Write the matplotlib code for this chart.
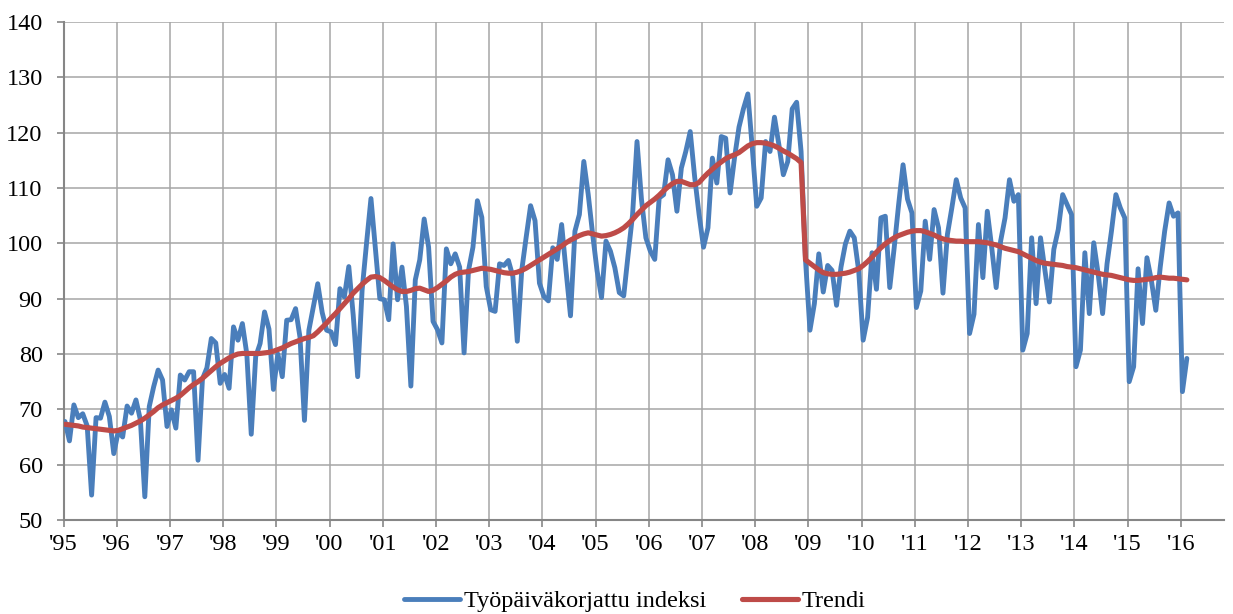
import matplotlib
matplotlib.use("Agg")
import matplotlib.pyplot as plt
import numpy as np

plt.rcParams['font.family'] = ['Liberation Serif', 'DejaVu Serif']

# monthly values, Jan 1995 .. Feb 2016
years = list(range(1995, 2017))
index_by_year = [
    [67.8, 64.3, 70.8, 68.5, 69.2, 67.0, 54.5, 68.5, 68.4, 71.3, 68.7, 62.0],
    [66.0, 65.0, 70.6, 69.3, 71.7, 68.1, 54.2, 70.5, 74.1, 77.1, 75.3, 66.9],
    [69.9, 66.6, 76.2, 75.3, 76.8, 76.8, 60.8, 75.5, 77.5, 82.8, 82.0, 74.7],
    [76.3, 73.8, 84.9, 82.5, 85.5, 80.0, 65.5, 79.5, 81.9, 87.6, 84.5, 73.6],
    [80.0, 75.9, 86.1, 86.2, 88.2, 83.0, 68.0, 84.3, 88.5, 92.7, 87.5, 84.3],
    [84.0, 81.7, 91.8, 90.3, 95.8, 87.0, 75.9, 91.5, 100.0, 108.1, 99.0, 90.0],
    [89.8, 86.2, 99.9, 89.8, 95.7, 88.6, 74.2, 93.4, 97.0, 104.4, 99.3, 85.9],
    [84.4, 82.0, 99.0, 96.3, 98.1, 95.7, 80.2, 95.1, 99.3, 107.7, 104.7, 92.2],
    [88.0, 87.7, 96.3, 96.0, 96.9, 94.0, 82.3, 95.1, 101.1, 106.8, 104.1, 92.8],
    [90.4, 89.6, 99.2, 97.1, 103.4, 95.0, 86.9, 102.2, 105.2, 114.8, 108.8, 101.6],
    [95.0, 90.2, 100.4, 98.6, 95.6, 91.1, 90.5, 98.0, 105.2, 118.4, 108.0, 101.0],
    [98.6, 97.1, 108.2, 108.8, 115.1, 112.4, 105.8, 113.6, 116.6, 120.2, 112.0, 105.2],
    [99.3, 102.8, 115.4, 110.9, 119.3, 119.0, 109.1, 115.5, 121.0, 124.3, 127.0, 117.2],
    [106.7, 108.2, 118.4, 116.6, 122.8, 117.8, 112.4, 114.8, 124.3, 125.5, 116.6, 97.0],
    [84.3, 89.1, 98.1, 91.2, 96.0, 95.1, 88.8, 95.7, 99.9, 102.2, 101.0, 95.0],
    [82.5, 86.6, 98.3, 91.7, 104.6, 104.9, 92.0, 99.2, 107.0, 114.2, 108.0, 105.5],
    [88.4, 91.4, 104.0, 97.1, 106.1, 102.8, 91.0, 101.6, 106.4, 111.5, 108.2, 106.4],
    [83.7, 87.2, 103.4, 93.8, 105.8, 99.2, 92.0, 100.4, 104.6, 111.5, 107.6, 108.8],
    [80.7, 83.7, 101.0, 89.1, 101.0, 95.1, 89.4, 98.9, 102.5, 108.8, 107.0, 105.2],
    [77.7, 80.7, 98.3, 87.3, 100.1, 94.5, 87.3, 96.3, 102.2, 108.8, 106.4, 104.6],
    [75.0, 77.7, 95.4, 85.5, 97.4, 93.3, 87.9, 95.7, 102.2, 107.3, 104.9, 105.5],
    [73.2, 79.2],
]
trend_by_year = [
    [67.3, 67.2, 67.1, 67.0, 66.8, 66.7, 66.6, 66.5, 66.4, 66.3, 66.2, 66.1],
    [66.2, 66.5, 66.8, 67.1, 67.5, 67.9, 68.4, 69.0, 69.6, 70.3, 70.8, 71.2],
    [71.6, 72.0, 72.5, 73.2, 73.9, 74.5, 75.0, 75.6, 76.3, 77.0, 77.7, 78.3],
    [78.8, 79.3, 79.7, 80.0, 80.1, 80.1, 80.1, 80.1, 80.1, 80.2, 80.3, 80.5],
    [80.8, 81.1, 81.5, 81.9, 82.2, 82.5, 82.8, 83.0, 83.3, 84.0, 84.8, 85.6],
    [86.5, 87.3, 88.2, 89.1, 90.0, 91.0, 91.8, 92.6, 93.3, 93.9, 94.0, 93.8],
    [93.3, 92.7, 92.1, 91.6, 91.3, 91.3, 91.5, 91.8, 91.9, 91.6, 91.3, 91.5],
    [92.0, 92.6, 93.2, 93.9, 94.4, 94.7, 94.8, 94.9, 95.1, 95.3, 95.5, 95.4],
    [95.3, 95.1, 94.9, 94.7, 94.6, 94.6, 94.8, 95.1, 95.5, 96.0, 96.5, 97.0],
    [97.5, 98.0, 98.5, 99.0, 99.5, 100.1, 100.6, 101.0, 101.4, 101.7, 101.9, 101.7],
    [101.5, 101.3, 101.4, 101.6, 101.9, 102.3, 102.8, 103.5, 104.3, 105.2, 106.0, 106.8],
    [107.4, 108.0, 108.7, 109.5, 110.2, 110.8, 111.2, 111.2, 110.9, 110.6, 110.6, 111.0],
    [111.9, 112.7, 113.4, 114.1, 114.7, 115.3, 115.7, 116.0, 116.4, 117.0, 117.6, 118.0],
    [118.2, 118.2, 118.1, 117.9, 117.6, 117.2, 116.7, 116.3, 115.8, 115.3, 114.6, 97.0],
    [96.4, 95.8, 95.2, 94.7, 94.5, 94.4, 94.4, 94.5, 94.6, 94.8, 95.1, 95.4],
    [96.0, 96.7, 97.5, 98.4, 99.2, 99.9, 100.5, 101.0, 101.4, 101.7, 102.0, 102.2],
    [102.3, 102.3, 102.1, 101.8, 101.5, 101.1, 100.8, 100.6, 100.5, 100.4, 100.4, 100.3],
    [100.3, 100.3, 100.3, 100.2, 100.1, 99.9, 99.7, 99.4, 99.1, 98.9, 98.7, 98.5],
    [98.1, 97.7, 97.3, 96.9, 96.6, 96.4, 96.3, 96.2, 96.1, 96.0, 95.8, 95.7],
    [95.6, 95.4, 95.2, 95.0, 94.8, 94.6, 94.4, 94.3, 94.2, 94.0, 93.8, 93.6],
    [93.4, 93.3, 93.3, 93.4, 93.5, 93.6, 93.8, 93.9, 93.8, 93.7, 93.7, 93.6],
    [93.5, 93.4],
]
year_labels = ["'%02d" % (y % 100) for y in years]

index_vals = np.concatenate(index_by_year)
trend_vals = np.concatenate(trend_by_year)
t = 1995 + (np.arange(len(index_vals)) + 0.34) / 12.0

fig = plt.figure(figsize=(12.33, 6.14), dpi=100)
W, H = 1233.0, 614.0
ax = fig.add_axes([63.5 / W, 1 - 520 / H, (1224 - 63.5) / W, (520 - 22) / H])

blue = '#4a7ebb'
red = '#be4b48'
ax.plot(t, index_vals, color=blue, lw=3.5, solid_joinstyle='round', solid_capstyle='round',
        label='Työpäiväkorjattu indeksi', zorder=3)
ax.plot(t, trend_vals, color=red, lw=3.7, solid_joinstyle='round', solid_capstyle='round',
        label='Trendi', zorder=4)

ax.set_ylim(50, 140)
ax.set_xlim(1995, 2016.81)
ax.set_yticks(np.arange(50, 141, 10))
ax.set_xticks(years)
ax.set_xticklabels(year_labels)

ax.grid(True, color='#a6a6a6', lw=1.1, zorder=0)
ax.set_axisbelow(True)
for s in ['top', 'right']:
    ax.spines[s].set_visible(False)
for s in ['left', 'bottom']:
    ax.spines[s].set_color('#868686')
    ax.spines[s].set_linewidth(1.5)
ax.tick_params(axis='both', colors='#868686', length=5, width=1.2, labelsize=17.5, labelcolor='black')
ax.tick_params(axis='y', pad=10)
ax.tick_params(axis='x', pad=5)

fig.legend(loc='center', bbox_to_anchor=(635 / W, 1 - 601 / H), ncol=2, frameon=False,
           fontsize=17.5, handlelength=2.3, handletextpad=0.15, columnspacing=1.5)

fig.savefig('out.png', dpi=100)
